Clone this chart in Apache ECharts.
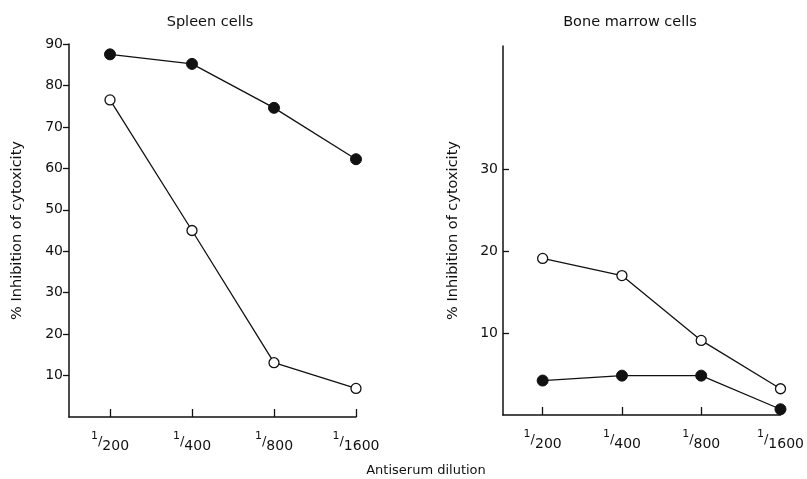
<!DOCTYPE html>
<html>
<head>
<meta charset="utf-8">
<script src="https://cdn.jsdelivr.net/npm/echarts@6/dist/echarts.min.js"></script>
<style>html,body{margin:0;padding:0;background:#fff}#c{width:807px;height:479px}</style>
</head>
<body>
<div id="c"></div>
<script>
// Dilution categories (x positions 1..4)
var dilutions = ['200', '400', '800', '1600'];
var xPos = [1, 2, 3, 4];

// Spleen cells (% inhibition of cytotoxicity)
var spleenFilled = [87.5, 85.2, 74.6, 62.2];
var spleenOpen = [76.5, 45.0, 13.1, 6.9];

// Bone marrow cells
var marrowOpen = [19.1, 17.0, 9.1, 3.2];
var marrowFilled = [4.2, 4.8, 4.8, 0.7];

// Tick labels
var spleenTicks = [10, 20, 30, 40, 50, 60, 70, 80, 90];
var marrowTicks = [10, 20, 30];

var FONT = 'DejaVu Sans';
var INK = '#111';

function pairs(vals) { return vals.map(function (v, i) { return [xPos[i], v]; }); }

function xAxisCfg(idx) {
  return {
    gridIndex: idx, type: 'value', min: 0.5, max: 4,
    axisLine: { show: true, onZero: false, lineStyle: { color: INK, width: 1.5 } },
    axisTick: { show: true, inside: true, length: 8, customValues: xPos, lineStyle: { color: INK, width: 1.3 } },
    axisLabel: {
      customValues: xPos, margin: 14, color: INK, fontFamily: FONT,
      formatter: function (v) { return '{a|1}{b|/}{c|' + dilutions[Math.round(v) - 1] + '}'; },
      rich: {
        a: { fontSize: 11, fontFamily: FONT, color: INK, verticalAlign: 'top', lineHeight: 22 },
        b: { fontSize: 13, fontFamily: FONT, color: INK, lineHeight: 22 },
        c: { fontSize: 14, fontFamily: FONT, color: INK, verticalAlign: 'bottom', lineHeight: 22 }
      }
    },
    splitLine: { show: false }
  };
}

function filledSeries(x, y, vals) {
  return { type: 'line', xAxisIndex: x, yAxisIndex: y, data: pairs(vals), symbol: 'circle', symbolSize: 11,
    itemStyle: { color: INK, borderColor: INK, borderWidth: 1 }, lineStyle: { color: INK, width: 1.3 }, z: 3 };
}
function openSeries(x, y, vals) {
  return { type: 'line', xAxisIndex: x, yAxisIndex: y, data: pairs(vals), symbol: 'circle', symbolSize: 10,
    itemStyle: { color: '#fff', borderColor: INK, borderWidth: 1.3 }, lineStyle: { color: INK, width: 1.3 }, z: 3 };
}

var chart = echarts.init(document.getElementById('c'), null, { renderer: 'canvas' });
chart.setOption({
  animation: false,
  backgroundColor: '#fff',
  textStyle: { fontFamily: FONT },
  grid: [
    { left: 69, top: 44, width: 287, height: 373 },
    { left: 503, top: 46, width: 284, height: 369 }
  ],
  xAxis: [xAxisCfg(0), xAxisCfg(1)],
  yAxis: [
    {
      gridIndex: 0, type: 'value', min: 0, max: 90,
      name: '% Inhibition of cytoxicity', nameLocation: 'middle', nameGap: 44,
      nameTextStyle: { fontFamily: FONT, fontSize: 14.5, color: INK },
      axisLine: { show: true, lineStyle: { color: INK, width: 1.5 } },
      axisTick: { show: true, inside: false, length: 6, customValues: spleenTicks, lineStyle: { color: INK, width: 1.3 } },
      axisLabel: { customValues: spleenTicks, margin: 6, fontSize: 14, color: INK, fontFamily: FONT },
      splitLine: { show: false }
    },
    {
      gridIndex: 1, type: 'value', min: 0, max: 45,
      name: '% Inhibition of cytoxicity', nameLocation: 'middle', nameGap: 42,
      nameTextStyle: { fontFamily: FONT, fontSize: 14.5, color: INK },
      axisLine: { show: true, lineStyle: { color: INK, width: 1.5 } },
      axisTick: { show: true, inside: true, length: 6, customValues: marrowTicks, lineStyle: { color: INK, width: 1.3 } },
      axisLabel: { customValues: marrowTicks, margin: 5, fontSize: 14, color: INK, fontFamily: FONT },
      splitLine: { show: false }
    }
  ],
  graphic: [
    { type: 'text', x: 210, y: 22, style: { text: 'Spleen cells', fontFamily: FONT, fontSize: 14.5, fill: INK, textAlign: 'center', textVerticalAlign: 'middle' } },
    { type: 'text', x: 630, y: 22, style: { text: 'Bone marrow cells', fontFamily: FONT, fontSize: 14.5, fill: INK, textAlign: 'center', textVerticalAlign: 'middle' } },
    { type: 'text', x: 426, y: 471, style: { text: 'Antiserum dilution', fontFamily: FONT, fontSize: 13, fill: INK, textAlign: 'center', textVerticalAlign: 'middle' } }
  ],
  series: [
    filledSeries(0, 0, spleenFilled),
    openSeries(0, 0, spleenOpen),
    openSeries(1, 1, marrowOpen),
    filledSeries(1, 1, marrowFilled)
  ]
});
</script>
</body>
</html>
